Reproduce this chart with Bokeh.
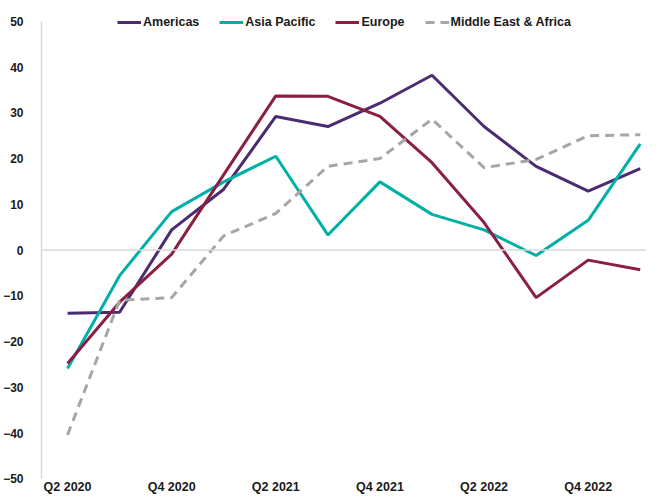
from bokeh.plotting import figure
from bokeh.models import FixedTicker, Span, Legend, LegendItem, Range1d
from bokeh.embed import file_html
from bokeh.resources import INLINE

quarters = ["Q2 2020", "Q3 2020", "Q4 2020", "Q1 2021", "Q2 2021", "Q3 2021",
            "Q4 2021", "Q1 2022", "Q2 2022", "Q3 2022", "Q4 2022", "Q1 2023"]
americas = [-13.8, -13.6, 4.4, 13.3, 29.2, 27.0, 32.1, 38.2, 27.0, 18.3, 12.9, 17.8]
asia_pacific = [-25.9, -5.6, 8.4, 14.9, 20.5, 3.3, 14.9, 7.8, 4.4, -1.2, 6.5, 23.2]
europe = [-24.8, -11.4, -0.9, 16.5, 33.7, 33.6, 29.2, 19.1, 6.0, -10.4, -2.2, -4.3]
mea = [-40.4, -11.0, -10.4, 3.1, 8.0, 18.3, 20.0, 28.6, 18.0, 19.8, 25.0, 25.2]
y_ticks = [-50, -40, -30, -20, -10, 0, 10, 20, 30, 40, 50]
x_tick_idx = [0, 2, 4, 6, 8, 10]

FONT = "Liberation Sans"

x = list(range(len(quarters)))

p = figure(width=646, height=496, output_backend="svg", toolbar_location=None,
           x_range=Range1d(-0.5, 11.12), y_range=Range1d(-52.13, 52.365),
           min_border_left=38, min_border_right=0, min_border_top=10, min_border_bottom=0)
p.outline_line_color = None
p.xgrid.visible = False
p.ygrid.visible = False
p.background_fill_color = "white"
p.border_fill_color = "white"

p.add_layout(Span(location=0, dimension="width", line_color="#d9d9d9", line_width=1.5))

r1 = p.line(x, americas, line_color="#4b2c70", line_width=3)
r2 = p.line(x, asia_pacific, line_color="#00b0a6", line_width=3)
r3 = p.line(x, europe, line_color="#8a1e45", line_width=3)
r4 = p.line(x, mea, line_color="#a6a6a6", line_width=3, line_dash="9 6")

legend = Legend(items=[LegendItem(label="Americas", renderers=[r1]),
                       LegendItem(label="Asia Pacific", renderers=[r2]),
                       LegendItem(label="Europe", renderers=[r3]),
                       LegendItem(label="Middle East & Africa", renderers=[r4])],
                orientation="horizontal", location=(76, 458),
                label_text_font=FONT, label_text_font_style="bold",
                label_text_font_size="12.5px", label_text_color="#1a1a1a",
                glyph_width=24, glyph_height=16, label_height=16, label_standoff=2,
                spacing=20, padding=0, margin=0,
                background_fill_alpha=0, border_line_color=None)
p.add_layout(legend, "center")

p.yaxis.ticker = FixedTicker(ticks=y_ticks)
p.yaxis.bounds = (-50, 50)
p.yaxis.axis_line_color = "#d9d9d9"
p.yaxis.axis_line_width = 1.5
p.yaxis.major_tick_line_color = None
p.yaxis.minor_tick_line_color = None
p.yaxis.major_label_standoff = 12
p.yaxis.major_label_text_font = FONT
p.yaxis.major_label_text_font_style = "bold"
p.yaxis.major_label_text_font_size = "12px"
p.yaxis.major_label_text_color = "#1a1a1a"

p.xaxis.ticker = FixedTicker(ticks=x_tick_idx)
p.xaxis.major_label_overrides = {i: quarters[i] for i in x_tick_idx}
p.xaxis.axis_line_color = None
p.xaxis.major_tick_line_color = None
p.xaxis.minor_tick_line_color = None
p.xaxis.major_tick_out = 0
p.xaxis.major_label_standoff = -9
p.xaxis.major_label_text_font = FONT
p.xaxis.major_label_text_font_style = "bold"
p.xaxis.major_label_text_font_size = "12.5px"
p.xaxis.major_label_text_color = "#1a1a1a"

open("out.html", "w").write(file_html(p, INLINE))
